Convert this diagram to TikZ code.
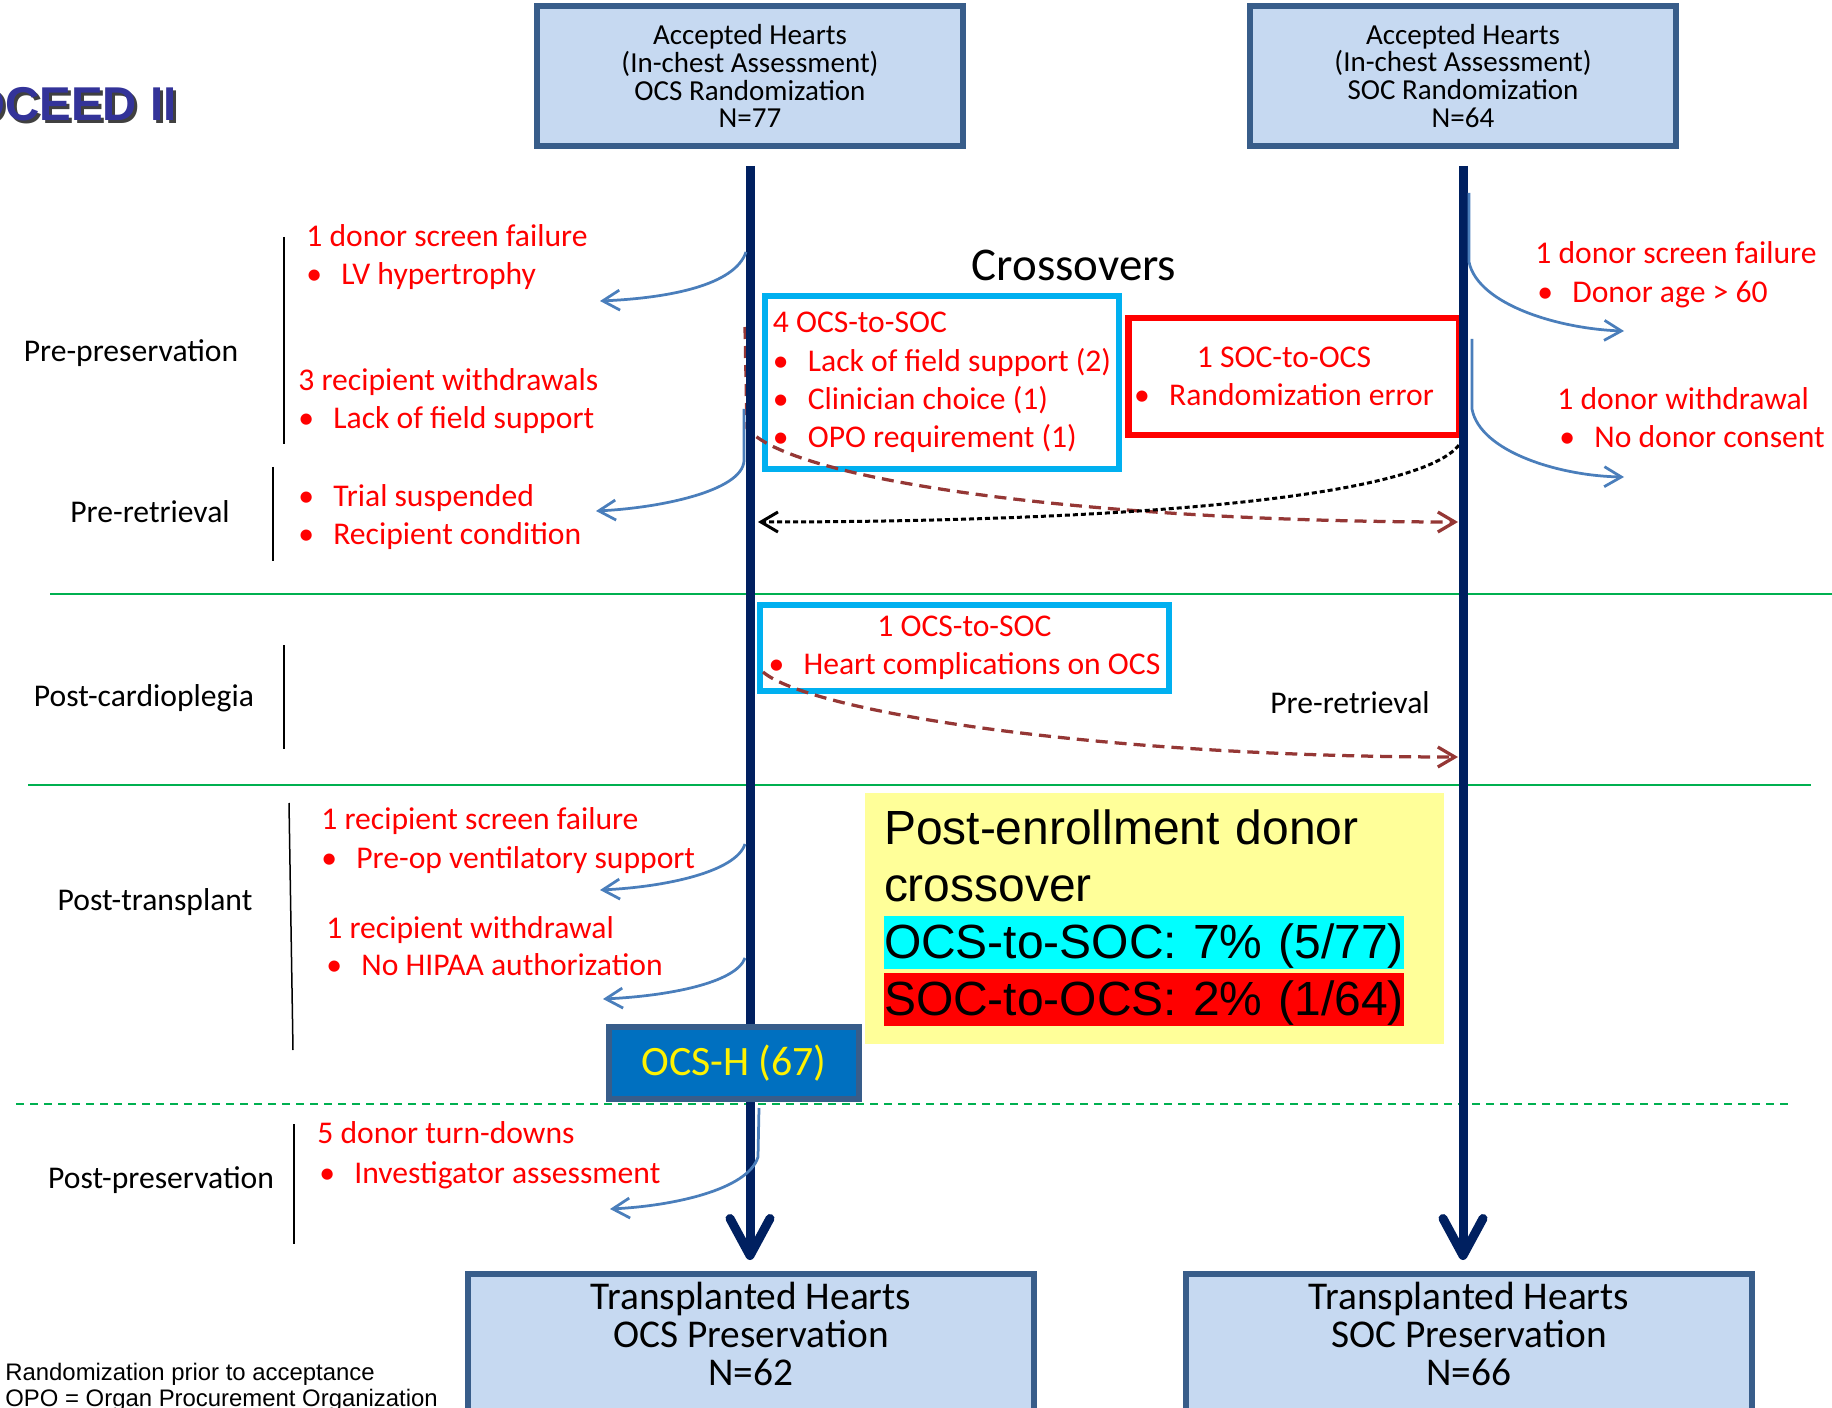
\documentclass[tikz,border=0pt]{standalone}
\usepackage{fontspec}
\setmainfont{Carlito}
\newfontfamily\arialfont{Liberation Sans}
\usetikzlibrary{arrows.meta}
\definecolor{boxfill}{HTML}{C6D9F1}
\definecolor{boxline}{HTML}{385D8A}
\definecolor{navy}{HTML}{002060}
\definecolor{dropblue}{HTML}{4A7EBB}
\definecolor{crossbrown}{HTML}{953735}
\definecolor{swapcyan}{HTML}{00B0F0}
\definecolor{reasonred}{HTML}{FF0000}
\definecolor{phasegreen}{HTML}{00B050}
\definecolor{notefill}{HTML}{FFFF99}
\definecolor{ocsfill}{HTML}{0070C0}
\definecolor{titleblue}{HTML}{333399}
\definecolor{ratecyan}{HTML}{00FFFF}
\setlength{\fboxsep}{0pt}
\newcommand{\bul}{\makebox[7mm][l]{\textbullet}}
\newcommand{\barstrut}{\rule[-2mm]{0pt}{10.6mm}}
\tikzstyle{randbox} = [rectangle, draw=boxline, line width=1.2mm, fill=boxfill, minimum width=85.2mm, minimum height=28mm, align=center, font=\fontsize{16.5}{15.9}\selectfont]
\tikzstyle{presbox} = [rectangle, draw=boxline, line width=1.2mm, fill=boxfill, minimum width=113.2mm, minimum height=40mm, anchor=north]
\tikzstyle{prestext} = [align=center, anchor=north, inner sep=0pt, font=\fontsize{22.4}{21.6}\selectfont]
\tikzstyle{mainflow} = [line width=1.8mm, draw=navy, shorten <=3.4mm, shorten >=2.2mm, -{Straight Barb[length=7.4mm,width=8mm,round]}]
\tikzstyle{dropout} = [line width=0.55mm, draw=dropblue, -{Straight Barb[length=3.4mm,width=4mm]}]
\tikzstyle{crossover} = [line width=0.65mm, draw=crossbrown, dash pattern=on 2.4mm off 1.4mm, -{Straight Barb[length=3.4mm,width=4mm]}]
\tikzstyle{crossback} = [line width=0.6mm, draw=black, dash pattern=on 1mm off 0.6mm, -{Straight Barb[length=3.4mm,width=4mm]}]
\tikzstyle{swapbox} = [rectangle, draw=swapcyan, line width=1.3mm, text=reasonred, font=\fontsize{18}{21.8}\selectfont]
\tikzstyle{reasontext} = [text=reasonred, font=\fontsize{18}{21.6}\selectfont, inner sep=0pt, anchor=base west]
\tikzstyle{phasetext} = [font=\fontsize{18}{21.6}\selectfont, inner sep=0pt, anchor=base]
\tikzstyle{phasebar} = [line width=0.3mm, draw=black]
\tikzstyle{phaseline} = [line width=0.5mm, draw=phasegreen]
\tikzstyle{pagetitle} = [anchor=base east, inner sep=0pt, font=\arialfont\bfseries\fontsize{27}{31}\selectfont, text=titleblue]
\tikzstyle{ocshbox} = [rectangle, draw=boxline, line width=1.1mm, fill=ocsfill, text=yellow, minimum width=50mm, minimum height=14.4mm, font=\fontsize{23.8}{28}\selectfont]
\tikzstyle{notebox} = [rectangle, fill=notefill, inner xsep=3.8mm, inner ysep=0pt, text width=108.2mm, minimum height=50.2mm, align=left, font=\arialfont\fontsize{27.3}{32.4}\selectfont]
\tikzstyle{footnote} = [anchor=base west, inner sep=0pt, font=\arialfont\fontsize{13.6}{14.8}\selectfont]

\begin{document}
\begin{tikzpicture}[x=0.2mm, y=-0.2mm]
\useasboundingbox (0,0) rectangle (1832,1408);
\clip (0,0) rectangle (1832,1408);

\node (titleShade) [pagetitle, text=black!75] at (180,124) {PROCEED II};
\node (title) [pagetitle] at (177,121) {PROCEED II};

% phase separators
\draw [phaseline] (50,594) -- (1832,594);
\draw [phaseline] (28,785) -- (1811,785);
\draw [phaseline, dash pattern=on 1.6mm off 1.2mm] (16,1104) -- (1793,1104);

\node (phPrePres) [phasetext] at (131,362) {Pre-preservation};
\node (phPreRet) [phasetext] at (150,522) {Pre-retrieval};
\node (phPostCard) [phasetext] at (144,706) {Post-cardioplegia};
\node (phPostTx) [phasetext] at (155,910) {Post-transplant};
\node (phPostPres) [phasetext] at (161,1188) {Post-preservation};
\draw [phasebar] (284,237) -- (284,444);
\draw [phasebar] (273,467) -- (273,561);
\draw [phasebar] (284,645) -- (284,749);
\draw [phasebar] (289,803) -- (293,1050);
\draw [phasebar] (294,1124) -- (294,1244);

% randomization and transplant boxes
\node (ocsRand) [randbox] at (750,76) {Accepted Hearts\\(In-chest Assessment)\\OCS Randomization\\N=77};
\node (socRand) [randbox] at (1463,76) {Accepted Hearts\\(In-chest Assessment)\\SOC Randomization\\N=64};
\node (ocsPres) [presbox] at (751,1271) {};
\node (ocsPresText) [prestext] at (751,1282) {Transplanted Hearts\\OCS Preservation\\N=62};
\node (socPres) [presbox] at (1469,1271) {};
\node (socPresText) [prestext] at (1469,1282) {Transplanted Hearts\\SOC Preservation\\N=66};

% crossovers
\node (crossTitle) [font=\fontsize{26.7}{32}\selectfont] at (1074,265) {Crossovers};
\node (ocsSwapA) [swapbox, align=left, minimum width=70.8mm, minimum height=34.6mm] at (942,382.5) {4 OCS-to-SOC\\\bul Lack of field support (2)\\\bul Clinician choice (1)\\\bul OPO requirement (1)};
\node (socSwap) [swapbox, draw=reasonred, align=center, minimum width=64mm, minimum height=23.4mm] at (1294,376.5) {1 SOC-to-OCS\hspace*{4mm}\\\bul Randomization error\hspace*{4mm}};
\node (ocsSwapB) [swapbox, align=center, minimum width=81.8mm, minimum height=17.2mm] at (964.5,648) {1 OCS-to-SOC\\\bul Heart complications on OCS};
\node (phMidRet) [phasetext] at (1350,713) {Pre-retrieval};
\coordinate (swapAFrom) at (745,327);
\coordinate (swapATo) at (1458,522);
\coordinate (swapBackTo) at (758,522);
\coordinate (swapBFrom) at (763,672);
\coordinate (swapBTo) at (1458,757);
\draw [crossover] (swapAFrom) -- (747,428) .. controls (790,482) and (1100,522) .. (swapATo);
\draw [crossback] (socSwap.south east) .. controls (1440,500) and (1100,522) .. (swapBackTo);
\draw [crossover] (swapBFrom) .. controls (810,712) and (1100,757) .. (swapBTo);

% main flow
\draw [mainflow] (ocsRand.south) -- (ocsRand.south |- ocsPres.north);
\draw [mainflow] (socRand.south) -- (socRand.south |- socPres.north);
\node (ocsH) [ocshbox] at (734,1063) {OCS-H (67)};

% OCS arm exclusions
\node (ocsR1) [reasontext] at (306,247) {1 donor screen failure};
\node (ocsR1a) [reasontext] at (306,285) {\bul LV hypertrophy};
\node (ocsR2) [reasontext] at (298,391) {3 recipient withdrawals};
\node (ocsR2a) [reasontext] at (298,429) {\bul Lack of field support};
\node (ocsR3a) [reasontext] at (298,507) {\bul Trial suspended};
\node (ocsR3b) [reasontext] at (298,545) {\bul Recipient condition};
\node (ocsR4) [reasontext] at (321,829) {1 recipient screen failure};
\node (ocsR4a) [reasontext] at (321,868) {\bul Pre-op ventilatory support};
\node (ocsR5) [reasontext] at (326,938) {1 recipient withdrawal};
\node (ocsR5a) [reasontext] at (326,975) {\bul No HIPAA authorization};
\node (ocsR6) [reasontext] at (317,1143) {5 donor turn-downs};
\node (ocsR6a) [reasontext] at (319,1183) {\bul Investigator assessment};
\coordinate (lvFrom) at (746,252);
\coordinate (lvTo) at (600,301);
\coordinate (wdFrom) at (744,409);
\coordinate (wdTo) at (596,511);
\coordinate (rsFrom) at (745,844);
\coordinate (rsTo) at (600,890);
\coordinate (rwFrom) at (745,958);
\coordinate (rwTo) at (603,999);
\coordinate (tdFrom) at (759,1108);
\coordinate (tdTo) at (610,1209);
\draw [dropout] (lvFrom) .. controls (735,285) and (670,298) .. (lvTo);
\draw [dropout] (wdFrom) -- (744,461) .. controls (742,491) and (660,508) .. (wdTo);
\draw [dropout] (rsFrom) .. controls (736,872) and (665,887) .. (rsTo);
\draw [dropout] (rwFrom) .. controls (736,983) and (668,996) .. (rwTo);
\draw [dropout] (tdFrom) -- (758,1157) .. controls (748,1190) and (672,1206) .. (tdTo);

% SOC arm exclusions
\node (socR1) [reasontext] at (1535,264) {1 donor screen failure};
\node (socR1a) [reasontext] at (1537,303) {\bul Donor age > 60};
\node (socR2) [reasontext] at (1557,410) {1 donor withdrawal};
\node (socR2a) [reasontext] at (1559,448) {\bul No donor consent};
\coordinate (dsFrom) at (1469,193);
\coordinate (dsTo) at (1624,331);
\coordinate (dwFrom) at (1472,339);
\coordinate (dwTo) at (1624,477);
\draw [dropout] (dsFrom) -- (1469,262) .. controls (1478,305) and (1560,329) .. (dsTo);
\draw [dropout] (dwFrom) -- (1472,409) .. controls (1480,452) and (1560,476) .. (dwTo);

% summary
\node (crossNote) [notebox] at (1154.5,918) {Post-enrollment donor\\crossover\\\colorbox{ratecyan}{\barstrut OCS-to-SOC: 7\% (5/77)}\\\colorbox{reasonred}{\barstrut SOC-to-OCS: 2\% (1/64)}};

\node (note1) [footnote] at (5,1380) {Randomization prior to acceptance};
\node (note2) [footnote] at (5,1406) {OPO = Organ Procurement Organization};
\end{tikzpicture}
\end{document}
